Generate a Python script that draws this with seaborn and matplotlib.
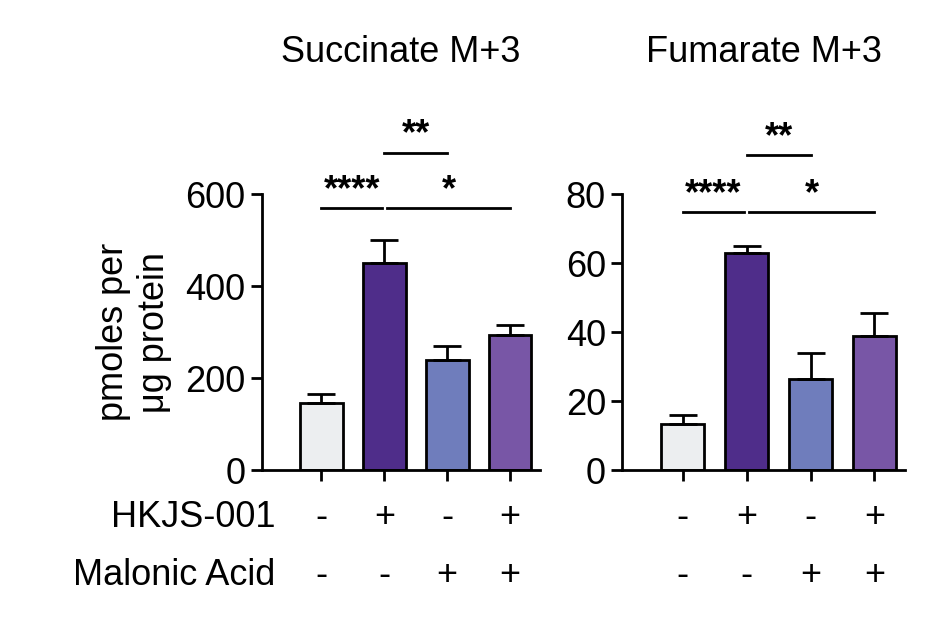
import matplotlib
matplotlib.use("Agg")
import matplotlib.pyplot as plt
import seaborn as sns
import pandas as pd

conditions = ["A", "B", "C", "D"]
hkjs = ["-", "+", "-", "+"]
malonic = ["-", "-", "+", "+"]
colors = ["#eceef0", "#4f2d8a", "#6f7dbc", "#7856a6"]
succ_vals = [145, 450, 240, 293]
succ_err = [20, 50, 30, 22]
fum_vals = [13.5, 63, 26.5, 39]
fum_err = [2.5, 2, 7.5, 6.5]

plt.rcParams["font.family"] = "Liberation Sans"
FS = 26
fig = plt.figure(figsize=(9.38, 6.26), dpi=100)
ax1 = fig.add_axes([0.279, 0.249, 0.297, 0.441])
ax2 = fig.add_axes([0.663, 0.249, 0.302, 0.441])

def panel(ax, vals, err, title, ymax, ticks, sig):
    df = pd.DataFrame({"c": conditions, "v": vals})
    sns.barplot(data=df, x="c", y="v", hue="c", palette=colors, ax=ax, saturation=1,
                edgecolor="black", linewidth=2, width=0.68, legend=False, errorbar=None)
    ax.errorbar(range(4), vals, yerr=[[0]*4, err], fmt="none", ecolor="black",
                elinewidth=2, capsize=10, capthick=2)
    ax.set_ylim(0, ymax)
    ax.set_xlim(-0.95, 3.48)
    ax.set_yticks(ticks)
    ax.tick_params(axis="y", labelsize=FS, width=2, length=8)
    ax.tick_params(axis="x", labelbottom=False, width=2, length=8)
    ax.set_xlabel(""); ax.set_ylabel("")
    for s in ["top", "right"]:
        ax.spines[s].set_visible(False)
    for s in ["left", "bottom"]:
        ax.spines[s].set_linewidth(2)
    ax.set_title(title, fontsize=FS, pad=95)
    for x0, x1, y, lab in sig:
        ax.plot([x0, x1], [y, y], color="black", lw=2, clip_on=False)
        ax.text((x0 + x1) / 2, y, lab, ha="center", va="bottom", fontsize=FS,
                fontweight="bold")
    for i in range(4):
        ax.text(i, -0.17, hkjs[i], transform=ax.get_xaxis_transform(),
                ha="center", va="center", fontsize=FS)
        ax.text(i, -0.38, malonic[i], transform=ax.get_xaxis_transform(),
                ha="center", va="center", fontsize=FS)

panel(ax1, succ_vals, succ_err, "Succinate M+3", 600, [0, 200, 400, 600],
      [(0, 0.96, 570, "****"), (1, 2, 690, "**"), (1.04, 3, 570, "*")])
panel(ax2, fum_vals, fum_err, "Fumarate M+3", 80, [0, 20, 40, 60, 80],
      [(0, 0.96, 74.8, "****"), (1, 2, 91.3, "**"), (1.04, 3, 74.8, "*")])

ax1.set_ylabel("pmoles per\nμg protein", fontsize=FS, labelpad=10)
ax1.text(0.05, -0.17, "HKJS-001", transform=ax1.transAxes, ha="right", va="center", fontsize=FS)
ax1.text(0.05, -0.38, "Malonic Acid", transform=ax1.transAxes, ha="right", va="center", fontsize=FS)

fig.savefig("out.png", dpi=100)
